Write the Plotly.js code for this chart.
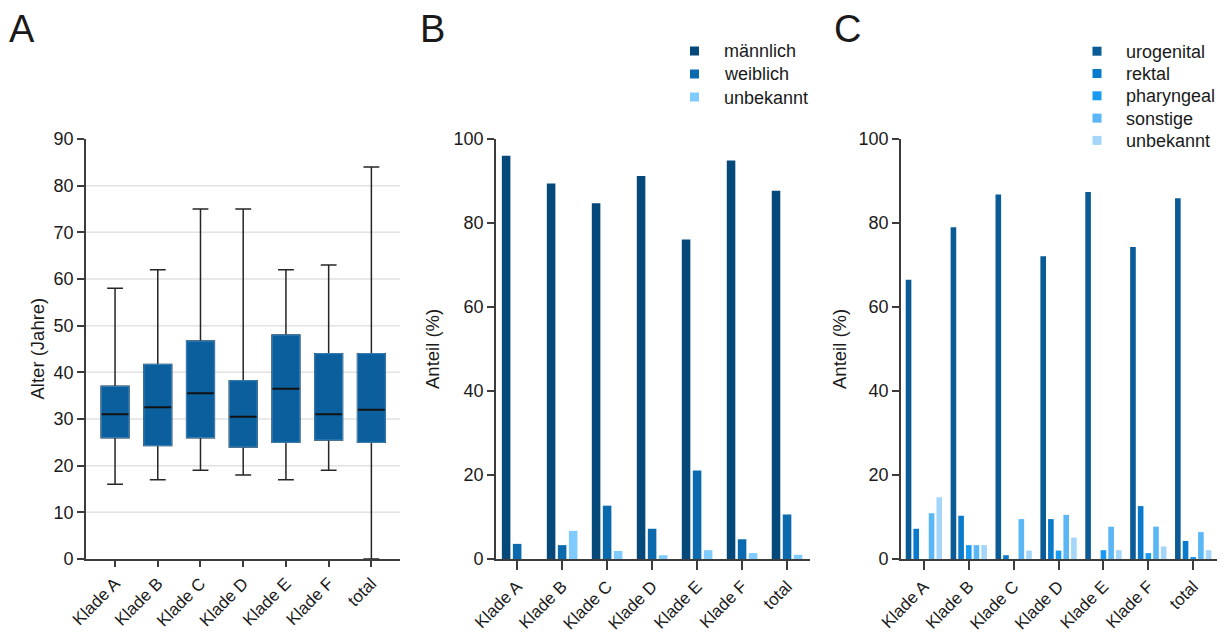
<!DOCTYPE html>
<html>
<head>
<meta charset="utf-8">
<script src="https://cdn.plot.ly/plotly-3.0.1.min.js"></script>
<style>html,body{margin:0;padding:0;background:#fff;}#chart{width:1227px;height:632px;}</style>
</head>
<body>
<div id="chart"></div>
<script>
// ---------- DATA ----------
const categories = ['Klade A', 'Klade B', 'Klade C', 'Klade D', 'Klade E', 'Klade F', 'total'];

// Panel A: age (years) box statistics
const ageMin    = [16, 17, 19, 18, 17, 19, 0];
const ageQ1     = [26, 24.3, 26, 24, 25, 25.5, 25];
const ageMedian = [31, 32.5, 35.5, 30.5, 36.5, 31, 32];
const ageQ3     = [37, 41.7, 46.7, 38.2, 48, 44, 44];
const ageMax    = [58, 62, 75, 75, 62, 63, 84];
const ageGridVals = [10, 20, 30, 40, 50, 60, 70, 80];

// Panel B: sex (%)
const sexNames = ['männlich', 'weiblich', 'unbekannt'];
const maennlich = [96.0, 89.4, 84.7, 91.2, 76.1, 94.9, 87.7];
const weiblich  = [3.6, 3.3, 12.7, 7.2, 21.1, 4.7, 10.6];
const sexUnbekannt = [0, 6.7, 1.9, 0.9, 2.1, 1.4, 1.0];

// Panel C: sampling site (%)
const siteNames = ['urogenital', 'rektal', 'pharyngeal', 'sonstige', 'unbekannt'];
const urogenital = [66.5, 79.0, 86.8, 72.1, 87.4, 74.3, 85.9];
const rektal     = [7.2, 10.3, 0.9, 9.5, 0, 12.6, 4.3];
const pharyngeal = [0, 3.3, 0, 2.0, 2.1, 1.4, 0.4];
const sonstige   = [10.9, 3.3, 9.5, 10.5, 7.7, 7.7, 6.4];
const siteUnbekannt = [14.7, 3.3, 2.0, 5.1, 2.1, 3.0, 2.1];

// ---------- STYLE ----------
const W = 1227, H = 632;
const FONT = '"Liberation Sans", Arial, Helvetica, sans-serif';
const TXT = '#1a1a1a';
const AX = '#3c3c3c';
const boxColor = '#0a5f9c';
const sexColors = ['#05497a', '#0b6aae', '#7fcaff'];
const siteColors = ['#0a5b96', '#0a7acc', '#1a9af0', '#5bb6f5', '#a3d6fa'];

const px = v => v / W;
const py = v => 1 - v / H;
const yDom = [py(559), py(139)];

const traces = [];

// Panel A box plot (precomputed statistics): whiskers, then box body, then medians
traces.push({
  type: 'box', xaxis: 'x', yaxis: 'y',
  x: categories, q1: ageQ1, median: ageMedian, q3: ageQ3,
  lowerfence: ageMin, upperfence: ageMax,
  boxpoints: false, width: 0.65, whiskerwidth: 0.57,
  fillcolor: boxColor, line: {color: '#262626', width: 1.5},
  showlegend: false, hoverinfo: 'skip'
});
traces.push({
  type: 'box', xaxis: 'x', yaxis: 'y',
  x: categories, q1: ageQ1, median: ageMedian, q3: ageQ3,
  lowerfence: ageQ1, upperfence: ageQ3,
  boxpoints: false, width: 0.65, whiskerwidth: 0,
  fillcolor: boxColor, line: {color: '#3f88c2', width: 1},
  showlegend: false, hoverinfo: 'skip'
});
traces.push({
  type: 'box', xaxis: 'x', yaxis: 'y',
  x: categories, q1: ageMedian, median: ageMedian, q3: ageMedian,
  lowerfence: ageMedian, upperfence: ageMedian,
  boxpoints: false, width: 0.63, whiskerwidth: 0,
  fillcolor: 'rgba(0,0,0,0)', line: {color: '#111111', width: 2},
  showlegend: false, hoverinfo: 'skip'
});

// Panel B bars
const sexSeries = [maennlich, weiblich, sexUnbekannt];
const bW = 0.19, bSlot = 0.245;
sexSeries.forEach((vals, i) => {
  traces.push({
    type: 'bar', xaxis: 'x2', yaxis: 'y2', x: categories, y: vals,
    width: bW, offset: (i - 1) * bSlot - bW / 2,
    marker: {color: sexColors[i], line: {width: 0}},
    name: sexNames[i], showlegend: false
  });
});

// Panel C bars
const siteSeries = [urogenital, rektal, pharyngeal, sonstige, siteUnbekannt];
const cW = 0.125, cSlot = 0.171;
siteSeries.forEach((vals, i) => {
  traces.push({
    type: 'bar', xaxis: 'x3', yaxis: 'y3', x: categories, y: vals,
    width: cW, offset: (i - 2) * cSlot - cW / 2,
    marker: {color: siteColors[i], line: {width: 0}},
    name: siteNames[i], showlegend: false
  });
});

function xAxis(dom, range, anchor, tlen) {
  return {
    domain: dom, range: range, anchor: anchor, type: 'category', categoryorder: 'array', categoryarray: categories,
    showline: true, linecolor: AX, linewidth: 1.6, ticks: 'outside', ticklen: tlen, tickwidth: 1.6,
    tickcolor: AX, tickangle: -45, tickfont: {family: FONT, size: 17, color: TXT},
    showgrid: false, zeroline: false, fixedrange: true
  };
}
function yAxis(anchor, range, dtick) {
  return {
    domain: yDom, anchor: anchor, range: range, dtick: dtick, tick0: 0,
    showline: true, linecolor: AX, linewidth: 1.6, ticks: 'outside', ticklen: 7, tickwidth: 1.6,
    tickcolor: AX, tickfont: {family: FONT, size: 18, color: TXT},
    showgrid: false, zeroline: false, fixedrange: true
  };
}

const shapes = ageGridVals.map(v => ({
  type: 'line', xref: 'x domain', yref: 'y', x0: 0, x1: 1, y0: v, y1: v,
  line: {color: '#e2e2e2', width: 1.5}, layer: 'below'
}));

const annotations = [];
function letter(t, x) {
  annotations.push({text: t, xref: 'paper', yref: 'paper', x: px(x), y: py(29), xanchor: 'left', yanchor: 'middle',
    showarrow: false, font: {family: FONT, size: 38, color: TXT}});
}
function ytitle(t, x) {
  annotations.push({text: t, xref: 'paper', yref: 'paper', x: px(x), y: py(349), xanchor: 'center', yanchor: 'middle',
    textangle: -90, showarrow: false, font: {family: FONT, size: 18.5, color: TXT}});
}
letter('A', 7); letter('B', 418); letter('C', 832);
ytitle('Alter (Jahre)', 37.5); ytitle('Anteil (%)', 433); ytitle('Anteil (%)', 840);

// Legends (square key + label) for panels B and C
function legend(names, colors, cx, textX, y0, dy) {
  names.forEach((n, i) => {
    const cy = y0 + i * dy;
    shapes.push({type: 'rect', xref: 'paper', yref: 'paper',
      x0: px(cx - 4.5), x1: px(cx + 4.5), y0: py(cy + 4.5), y1: py(cy - 4.5),
      fillcolor: colors[i], line: {width: 0}});
    annotations.push({text: n, xref: 'paper', yref: 'paper', x: px(textX), y: py(cy + 0.5),
      xanchor: 'left', yanchor: 'middle', showarrow: false,
      font: {family: FONT, size: 18, color: TXT}});
  });
}
legend(sexNames, sexColors, 694.5, 722, 51, 23);
legend(siteNames, siteColors, 1097, 1124, 51.2, 22.3);

const layout = {
  width: W, height: H,
  margin: {l: 0, r: 0, t: 0, b: 0},
  paper_bgcolor: '#ffffff', plot_bgcolor: 'rgba(0,0,0,0)',
  font: {family: FONT, color: TXT},
  barmode: 'overlay', boxmode: 'overlay', showlegend: false,
  xaxis: xAxis([px(86), px(400)], [-0.68, 6.67], 'y', 6),
  yaxis: yAxis('x', [0, 90], 10),
  xaxis2: xAxis([px(496), px(810)], [-0.47, 6.51], 'y2', 9),
  yaxis2: yAxis('x2', [0, 100], 20),
  xaxis3: xAxis([px(901), px(1217)], [-0.51, 6.53], 'y3', 9),
  yaxis3: yAxis('x3', [0, 100], 20),
  shapes: shapes,
  annotations: annotations,
  hovermode: 'closest'
};

Plotly.newPlot('chart', traces, layout, {displayModeBar: false});
</script>
</body>
</html>
